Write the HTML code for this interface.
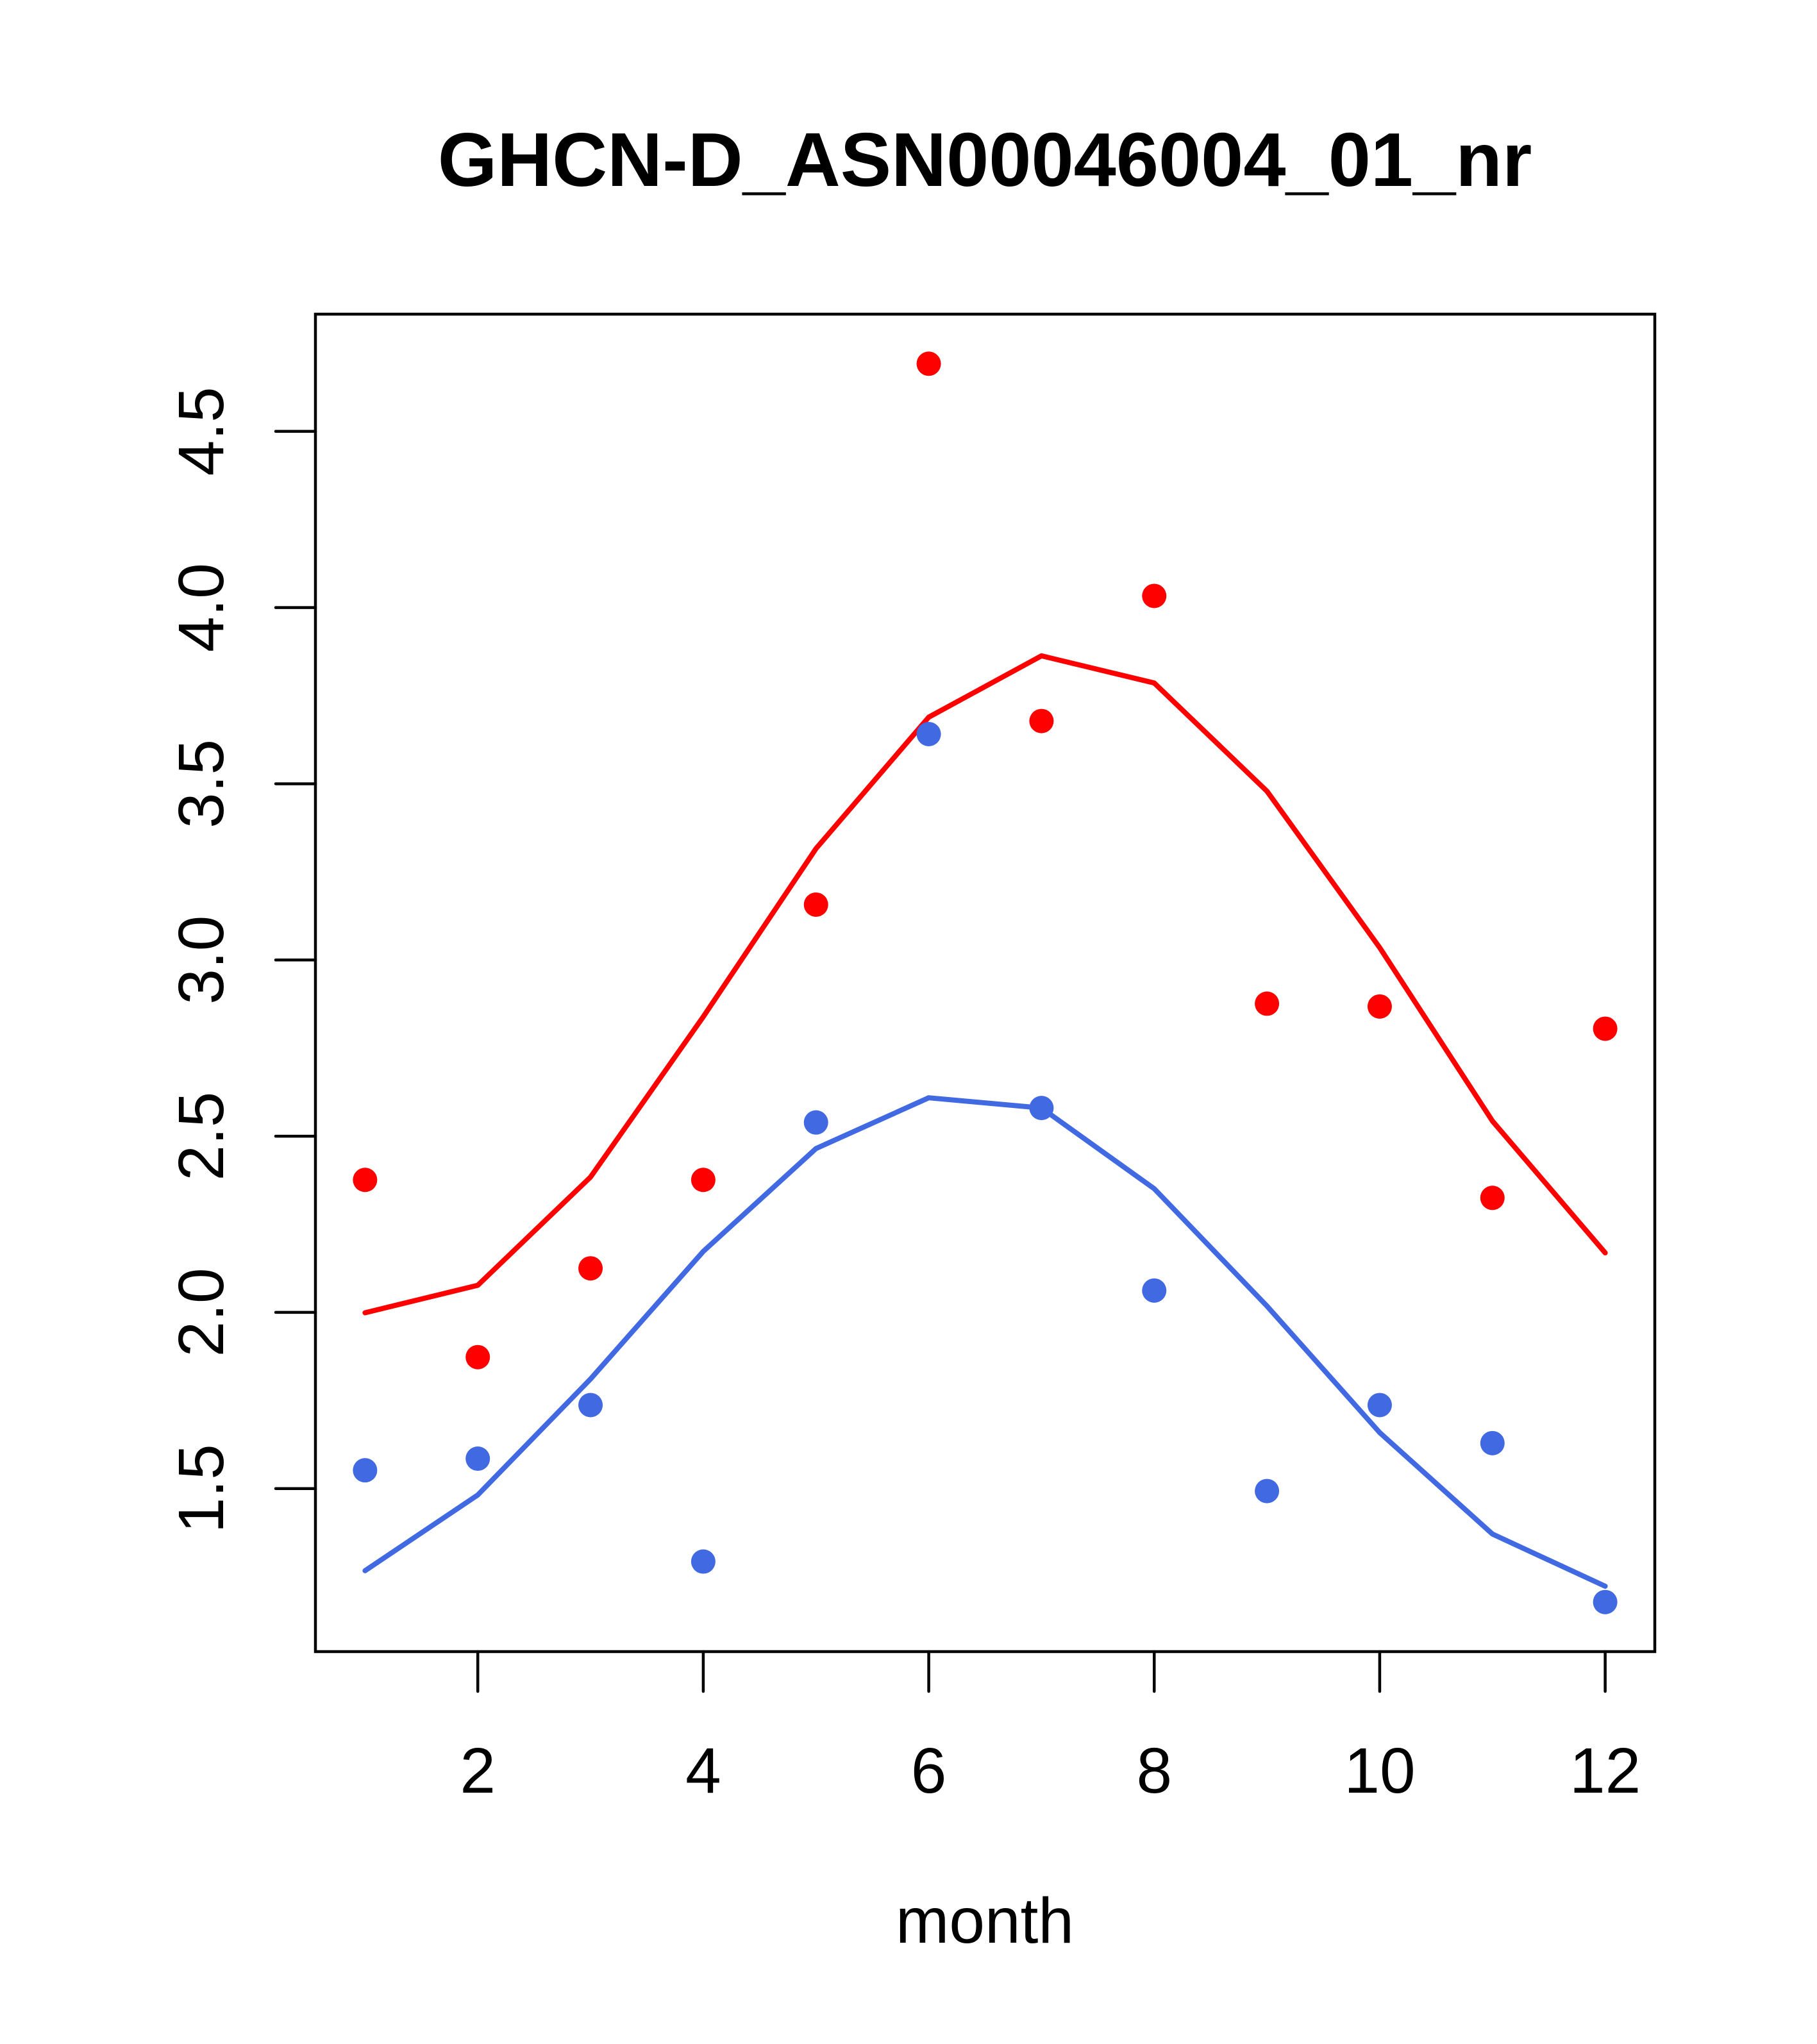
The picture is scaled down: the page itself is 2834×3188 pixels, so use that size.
<!DOCTYPE html>
<html><head><meta charset="utf-8"><style>
html,body{margin:0;padding:0;background:#fff;}
svg{display:block;font-family:"Liberation Sans",Arial,sans-serif;}
</style></head><body>
<svg id="chart" width="2834" height="3188" viewBox="0 0 2834 3188" xmlns="http://www.w3.org/2000/svg">
<rect width="2834" height="3188" fill="#fff"/>
<text x="1536" y="290" font-size="119" font-weight="bold" text-anchor="middle">GHCN-D_ASN00046004_01_nr</text>
<g id="plot"></g>
</svg>
<script>
const months = [1,2,3,4,5,6,7,8,9,10,11,12];
const redPoints = [2.376,1.873,2.125,2.376,3.157,4.692,3.678,4.033,2.876,2.868,2.325,2.805];
const redLine = [1.999,2.077,2.384,2.839,3.316,3.689,3.863,3.786,3.479,3.035,2.543,2.169];
const bluePoints = [1.552,1.585,1.737,1.293,2.539,3.641,2.580,2.062,1.493,1.737,1.629,1.178];
const blueLine = [1.267,1.482,1.811,2.173,2.465,2.609,2.580,2.351,2.018,1.659,1.371,1.223];
const xTicks = [2,4,6,8,10,12];
const yTicks = [1.5,2.0,2.5,3.0,3.5,4.0,4.5];
const yTickLabels = ["1.5","2.0","2.5","3.0","3.5","4.0","4.5"];

const NS="http://www.w3.org/2000/svg";
const L=492,R=2581,T=490,B=2576;
const xmin=0.56,xmax=12.44;
const allY=redPoints.concat(redLine,bluePoints,blueLine);
const dmin=Math.min(...allY),dmax=Math.max(...allY),ext=(dmax-dmin)*0.04;
const ymin=dmin-ext,ymax=dmax+ext;
const xs=v=>L+(v-xmin)/(xmax-xmin)*(R-L);
const ys=v=>B-(v-ymin)/(ymax-ymin)*(B-T);
const g=document.getElementById('plot');
function mk(tag,attrs){const e=document.createElementNS(NS,tag);for(const k in attrs)e.setAttribute(k,attrs[k]);g.appendChild(e);return e;}

let e=mk('rect',{x:L,y:T,width:R-L,height:B-T,fill:'none',stroke:'#000','stroke-width':4.5});



xTicks.forEach(t=>{
  const x=xs(t);
  let l=mk('line',{x1:x,y1:B,x2:x,y2:B+62,stroke:'#000','stroke-width':4.5,'stroke-linecap':'round'});
  
  
  let tx=mk('text',{x:x,y:2796,'font-size':100,'text-anchor':'middle'});
  tx.textContent=String(t);
  
  
});
yTicks.forEach((t,i)=>{
  const y=ys(t);
  let l=mk('line',{x1:L-62,y1:y,x2:L,y2:y,stroke:'#000','stroke-width':4.5,'stroke-linecap':'round'});
  
  
  let tx=mk('text',{x:0,y:0,'font-size':100,'text-anchor':'middle',transform:`translate(348,${y}) rotate(-90)`});
  tx.textContent=yTickLabels[i];
  
  
});
let xt=mk('text',{x:1536,y:3030,'font-size':100,'text-anchor':'middle'});
xt.textContent='month';



function series(line,pts,color,name){
  let p=mk('polyline',{points:months.map((m,i)=>xs(m)+','+ys(line[i])).join(' '),fill:'none',stroke:color,'stroke-width':8,'stroke-linejoin':'round','stroke-linecap':'round'});
  
  
  months.forEach((m,i)=>{
    let c=mk('circle',{cx:xs(m),cy:ys(pts[i]),r:19,fill:color});
    
    
  });
}
series(redLine,redPoints,'#FF0000','red-series');
series(blueLine,bluePoints,'#4169E1','blue-series');
</script>
</body></html>
